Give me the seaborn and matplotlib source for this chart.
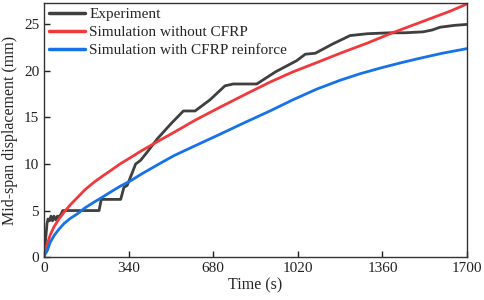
import numpy as np
import pandas as pd
import seaborn as sns
import matplotlib.pyplot as plt

# values
exp_t = [0, 5, 12, 16, 22, 28, 34, 40, 47, 54, 60, 68, 75, 150, 221, 230, 308, 321,
         334, 355, 368, 388, 415, 455, 509, 560, 607, 667, 727, 760, 855, 930,
         1015, 1050, 1090, 1160, 1230, 1300, 1391, 1450, 1523, 1560, 1592, 1650, 1700]
exp_v = [0, 1.5, 3.6, 4.1, 3.9, 4.4, 3.9, 4.4, 4.0, 4.4, 4.3, 4.6, 5.0, 5.0, 5.0, 6.2,
         6.2, 7.5, 7.7, 9.1, 10.0, 10.4, 11.3, 12.7, 14.3, 15.7, 15.7, 16.9, 18.4,
         18.6, 18.6, 19.9, 21.1, 21.8, 21.9, 22.9, 23.8, 24.0, 24.1, 24.1, 24.2, 24.4,
         24.7, 24.9, 25.0]

red_t = [0, 5, 13, 25, 40, 60, 80, 105, 134, 165, 201, 235, 268, 305, 348, 390, 429,
         475, 522, 610, 707, 810, 908, 1000, 1096, 1200, 1300, 1391, 1480, 1550, 1630, 1700]
red_v = [0.3, 0.9, 1.4, 2.4, 3.25, 4.1, 4.8, 5.6, 6.4, 7.25, 8.05, 8.7, 9.3, 10.0, 10.7,
         11.4, 12.0, 12.7, 13.4, 14.75, 16.1, 17.5, 18.8, 19.9, 20.9, 22.0, 23.0, 24.0,
         24.9, 25.6, 26.4, 27.2]

blue_t = [0, 5, 13, 25, 40, 60, 80, 105, 134, 165, 201, 235, 268, 305, 348, 390, 429,
          475, 522, 610, 707, 810, 908, 1000, 1096, 1190, 1270, 1350, 1430, 1500, 1600, 1700]
blue_v = [0, 0.35, 0.7, 1.6, 2.3, 3.0, 3.6, 4.15, 4.65, 5.3, 5.9, 6.45, 7.0, 7.6, 8.2,
          8.9, 9.5, 10.2, 10.9, 12.0, 13.2, 14.5, 15.7, 16.9, 18.05, 19.0, 19.7, 20.3,
          20.85, 21.3, 21.9, 22.4]

names = ["Experiment", "Simulation without CFRP", "Simulation with CFRP reinforce"]
colors = ["#3f3f3f", "#f0393c", "#1672e6"]

df = pd.concat([
    pd.DataFrame({"t": exp_t, "v": exp_v, "s": names[0]}),
    pd.DataFrame({"t": red_t, "v": red_v, "s": names[1]}),
    pd.DataFrame({"t": blue_t, "v": blue_v, "s": names[2]}),
])

sns.set_theme(style="ticks")
plt.rcParams['font.family'] = ['Liberation Serif', 'DejaVu Serif']

fig = plt.figure(figsize=(4.84, 3.0), dpi=100)
ax = fig.add_axes([0.091, 0.143, 0.874, 0.847])
sns.lineplot(data=df, x="t", y="v", hue="s", hue_order=names, palette=colors,
             linewidth=2.0, sort=False, ax=ax)

ax.set_xlim(0, 1700)
ax.set_ylim(0, 27.3)
ax.set_xticks([0, 340, 680, 1020, 1360, 1700])
ax.set_yticks([0, 5, 10, 15, 20, 25])
ax.tick_params(direction="in", length=4, width=1, labelsize=11, colors="#222222")
for s in ax.spines.values():
    s.set_linewidth(1.0)
    s.set_color("#333333")
ax.set_xlabel("Time (s)", fontsize=11.5, labelpad=2)
ax.set_ylabel("Mid-span displacement (mm)", fontsize=11.5, labelpad=4)

leg = ax.legend(loc="upper left", frameon=False, fontsize=11, handlelength=2.4,
                labelspacing=0.28, borderaxespad=0.0, handletextpad=0.25,
                borderpad=0.3)
for line in leg.get_lines():
    line.set_linewidth(2.5)

fig.savefig("out.png", dpi=100)
